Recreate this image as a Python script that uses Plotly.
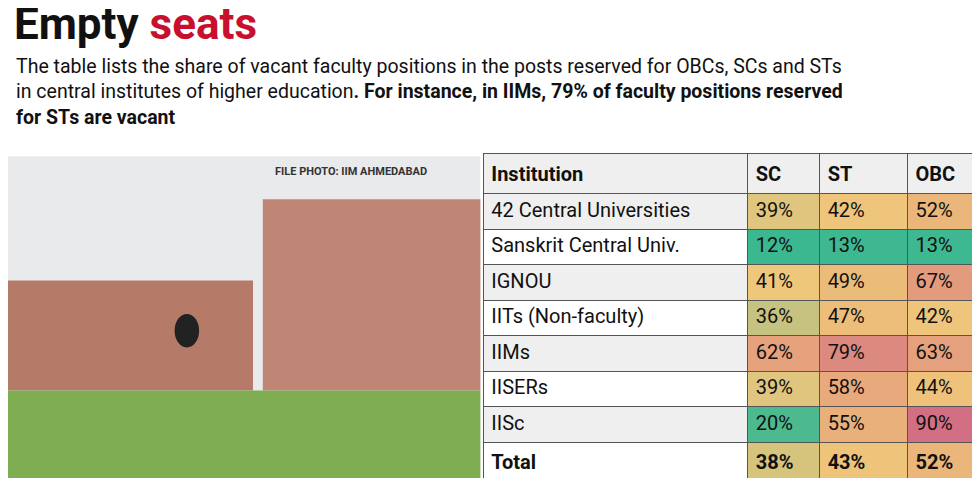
import plotly.graph_objects as go

institutions = ["42 Central Universities", "Sanskrit Central Univ.", "IGNOU", "IITs (Non-faculty)",
                "IIMs", "IISERs", "IISc", "<b>Total</b>"]
sc = [39, 12, 41, 36, 62, 39, 20, 38]
st = [42, 13, 49, 47, 79, 58, 55, 43]
obc = [52, 13, 67, 42, 63, 44, 90, 52]
headers = ["Institution", "SC", "ST", "OBC"]

stops = [(12, (60, 184, 145)), (20, (76, 186, 142)), (36, (198, 194, 127)), (41, (239, 199, 123)),
         (52, (234, 182, 122)), (62, (230, 162, 125)), (79, (220, 138, 128)), (90, (210, 111, 132))]

def col(v):
    for (a, ca), (b, cb) in zip(stops, stops[1:]):
        if v <= b:
            t = (v - a) / (b - a)
            c = [round(ca[i] + (cb[i] - ca[i]) * t) for i in range(3)]
            return "rgb(%d,%d,%d)" % tuple(c)
    return "rgb(%d,%d,%d)" % stops[-1][1]

def fmt(vals):
    return ["%d%%" % v if i < len(vals) - 1 else "<b>%d%%</b>" % v for i, v in enumerate(vals)]

inst_fill = ["#efefef" if i % 2 == 0 else "#ffffff" for i in range(len(institutions))]

fig = go.Figure(go.Table(
    domain=dict(x=[0.485, 1.0], y=[0, 0.695]),
    columnwidth=[265, 72, 88, 80],
    header=dict(values=["<b>%s</b>" % h for h in headers], fill_color="#efefef",
                line=dict(color="#555", width=1), align="left",
                font=dict(family="Roboto", size=20, color="#111"), height=35),
    cells=dict(values=[institutions, fmt(sc), fmt(st), fmt(obc)],
               fill_color=[inst_fill, [col(v) for v in sc], [col(v) for v in st], [col(v) for v in obc]],
               line=dict(color="#555", width=1), align="left",
               font=dict(family="Roboto", size=20, color="#111"), height=35.5)))

# decorative photo placeholder
shapes = [
    dict(type="rect", xref="paper", yref="paper", x0=0, x1=0.482, y0=0, y1=0.69, fillcolor="#e9eaec", line_width=0),
    dict(type="rect", xref="paper", yref="paper", x0=0.0, x1=0.25, y0=0.2, y1=0.43, fillcolor="#b67a68", line_width=0),
    dict(type="rect", xref="paper", yref="paper", x0=0.26, x1=0.482, y0=0.2, y1=0.6, fillcolor="#bf8575", line_width=0),
    dict(type="rect", xref="paper", yref="paper", x0=0, x1=0.482, y0=0, y1=0.2, fillcolor="#7fae52", line_width=0),
    dict(type="circle", xref="paper", yref="paper", x0=0.17, x1=0.195, y0=0.29, y1=0.36, fillcolor="#222", line_width=0),
]
fig.update_layout(
    width=980, height=478, margin=dict(l=0, r=0, t=0, b=0), paper_bgcolor="white", shapes=shapes,
    annotations=[
        dict(x=0.004, y=1.025, xref="paper", yref="paper", xanchor="left", yanchor="top", showarrow=False,
             text="<b>Empty <span style='color:#c8102e'>seats</span></b>",
             font=dict(family="Roboto", size=44, color="#111")),
        dict(x=0.006, y=0.905, xref="paper", yref="paper", xanchor="left", yanchor="top", showarrow=False, align="left",
             text="The table lists the share of vacant faculty positions in the posts reserved for OBCs, SCs and STs<br>"
                  "in central institutes of higher education<b>. For instance, in IIMs, 79% of faculty positions reserved</b><br>"
                  "<b>for STs are vacant</b>",
             font=dict(family="Roboto", size=19.5, color="#111")),
        dict(x=0.43, y=0.675, xref="paper", yref="paper", xanchor="right", yanchor="top", showarrow=False,
             text="<b>FILE PHOTO: IIM AHMEDABAD</b>", font=dict(family="Roboto", size=11, color="#333")),
    ])
fig.write_html("out.html")
